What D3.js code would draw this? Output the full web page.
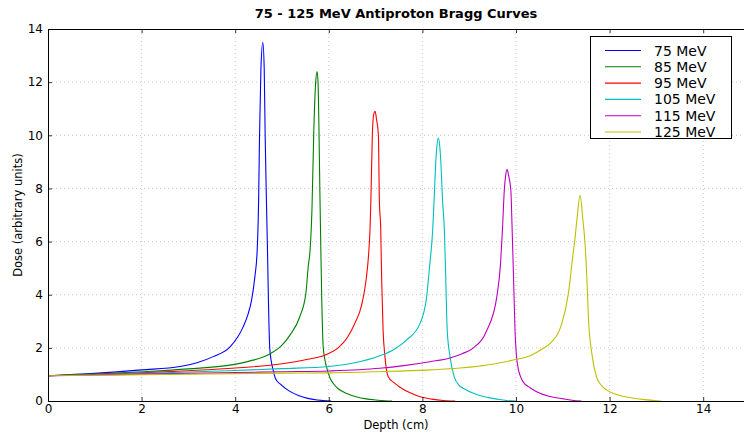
<!DOCTYPE html>
<html><head><meta charset="utf-8">
<script src="https://cdn.jsdelivr.net/npm/d3@7"></script>
<style>body{margin:0;background:#fff}svg{display:block}text{font-family:"DejaVu Sans",sans-serif;fill:#000}</style>
</head><body><svg id="c" width="744" height="437"></svg>
<script>
const title = "75 - 125 MeV Antiproton Bragg Curves";
const seriesNames = ["75 MeV","85 MeV","95 MeV","105 MeV","115 MeV","125 MeV"];
const seriesColors = ["#0000ff","#008000","#ff0000","#00bfbf","#bf00bf","#bfbf00"];
const xTicks = [0,2,4,6,8,10,12,14];
const yTicks = [2,4,6,8,10,12,14];

const depth75 = [0,1,2,2.82,3.2,3.53,3.89,4.05,4.17,4.28,4.35,4.42,4.47,4.5,4.52,4.55,4.59,4.62,4.64,4.67,4.69,4.71,4.74,4.81,4.86,4.96,5.15,5.35,5.55,5.75,5.95,6.05];
const dose75  = [0.95,1.04,1.17,1.3,1.45,1.67,2.04,2.4,2.79,3.3,3.8,4.67,5.68,7.5,10.0,12.5,13.5,12.5,10.0,7.3,5.68,3.8,1.95,1.17,0.85,0.64,0.38,0.21,0.1,0.04,0.01,0];

const depth85 = [0,1,2,3,3.89,4.3,4.74,5.0,5.17,5.38,5.51,5.56,5.6,5.64,5.68,5.72,5.75,5.77,5.79,5.81,5.83,5.85,5.88,5.95,6.03,6.1,6.2,6.4,6.6,6.8,7.0,7.2,7.35];
const dose85  = [0.95,1.01,1.1,1.21,1.35,1.5,1.77,2.1,2.48,3.17,4.05,5.05,5.68,7.2,10.2,12.0,12.4,12.0,10.2,7.8,5.68,3.8,2.04,1.29,0.85,0.65,0.46,0.27,0.15,0.08,0.04,0.01,0];

const depth95 = [0,1,2,3,4,5,5.5,5.95,6.2,6.4,6.55,6.7,6.8,6.85,6.88,6.9,6.93,6.96,6.99,7.02,7.06,7.08,7.11,7.13,7.16,7.2,7.27,7.4,7.52,7.75,7.95,8.2,8.45,8.7];
const dose95  = [0.95,1.0,1.06,1.14,1.24,1.4,1.55,1.75,2.0,2.4,2.9,3.6,4.6,5.5,6.43,7.6,10.0,10.8,10.9,10.6,10.0,7.6,6.43,4.55,2.67,1.67,0.91,0.68,0.52,0.3,0.16,0.07,0.02,0];

const depth105 = [0,1,2,3,4,5,6,6.5,7.09,7.4,7.66,7.95,8.09,8.16,8.22,8.25,8.28,8.31,8.34,8.37,8.40,8.43,8.47,8.5,8.53,8.59,8.68,8.78,8.9,9.09,9.35,9.6,9.8,10.0];
const dose105  = [0.95,0.99,1.04,1.09,1.15,1.22,1.3,1.42,1.7,1.95,2.29,2.92,3.92,5.18,6.43,7.56,8.8,9.6,9.9,9.6,8.8,7.56,6.43,4.55,2.67,1.67,0.91,0.6,0.45,0.29,0.15,0.07,0.02,0];

const depth115 = [0,1,2,3,4,5,6,7.09,7.6,8.16,8.59,8.85,9.09,9.38,9.59,9.67,9.71,9.75,9.78,9.81,9.84,9.89,9.92,9.95,9.98,10.01,10.05,10.1,10.16,10.3,10.44,10.7,11.01,11.2,11.4];
const dose115  = [0.95,0.98,1.01,1.04,1.07,1.1,1.13,1.23,1.33,1.48,1.62,1.78,2.0,2.67,3.92,5.18,6.43,7.93,8.5,8.72,8.5,7.93,6.3,4.5,2.6,1.7,1.2,0.9,0.7,0.5,0.35,0.18,0.08,0.03,0];

const depth125 = [0,1,2,3,4,5,6,7,8.16,8.8,9.23,9.59,9.94,10.3,10.55,10.73,10.98,11.12,11.22,11.26,11.3,11.37,11.43,11.47,11.51,11.55,11.62,11.72,11.82,11.94,12.1,12.3,12.5,12.75,13.0,13.1];
const dose125  = [0.95,0.97,0.99,1.01,1.03,1.05,1.06,1.1,1.17,1.24,1.32,1.41,1.54,1.7,1.95,2.17,2.92,4.05,5.55,6.1,6.8,7.74,6.8,6.05,4.8,3.05,1.79,0.91,0.6,0.41,0.27,0.17,0.11,0.05,0.01,0];

const depths = [depth75,depth85,depth95,depth105,depth115,depth125];
const doses = [dose75,dose85,dose95,dose105,dose115,dose125];

const svg = d3.select("#c");
const L=48, R=750, T=29, B=401;
const x = d3.scaleLinear().domain([0,15]).range([L,R]);
const y = d3.scaleLinear().domain([0,14]).range([B,T]);

svg.append("defs").append("clipPath").attr("id","clip").append("rect")
  .attr("x",L).attr("y",T).attr("width",R-L).attr("height",B-T);

// grid
const g = svg.append("g");
g.selectAll(".gx").data(xTicks.filter(d=>d>0)).enter().append("line")
  .attr("x1",d=>x(d)).attr("x2",d=>x(d)).attr("y1",T).attr("y2",B)
  .attr("stroke","#b8b8b8").attr("stroke-width",0.8).attr("stroke-dasharray","1,3");
g.selectAll(".gy").data(yTicks.filter(d=>d<14)).enter().append("line")
  .attr("x1",L).attr("x2",R).attr("y1",d=>y(d)).attr("y2",d=>y(d))
  .attr("stroke","#b8b8b8").attr("stroke-width",0.8).attr("stroke-dasharray","1,3");

// curves
const line = d3.line().x(d=>x(d[0])).y(d=>y(d[1])).curve(d3.curveMonotoneX);
const cg = svg.append("g").attr("clip-path","url(#clip)");
depths.forEach((dp,i)=>{
  const pts = dp.map((v,j)=>[v,doses[i][j]]);
  cg.append("path").attr("d",line(pts)).attr("fill","none")
    .attr("stroke",seriesColors[i]).attr("stroke-width",1.1);
});

// axes (ticks inward)
const xAxis = d3.axisBottom(x).tickValues(xTicks).tickSize(-4).tickPadding(3).tickFormat(d3.format("d"));
const ax = svg.append("g").attr("transform",`translate(0,${B})`).call(xAxis);
const xAxisTop = d3.axisTop(x).tickValues(xTicks).tickSize(-4).tickFormat("");
const axt = svg.append("g").attr("transform",`translate(0,${T})`).call(xAxisTop);
const yAxis = d3.axisLeft(y).tickValues([0].concat(yTicks)).tickSize(-4).tickPadding(5).tickFormat(d3.format("d"));
const ay = svg.append("g").attr("transform",`translate(${L},0)`).call(yAxis);
[ax,axt,ay].forEach(a=>{
  a.select(".domain").attr("stroke","#000").attr("stroke-width",1);
  a.selectAll(".tick line").attr("stroke","#000").attr("stroke-width",0.8);
  a.selectAll("text").attr("font-size",12).attr("font-family","DejaVu Sans").attr("fill","#000");
});

// titles
svg.append("text").attr("x",(L+744)/2).attr("y",18).attr("text-anchor","middle")
  .attr("font-size",13).attr("font-weight","bold").text(title);
svg.append("text").attr("x",(L+744)/2).attr("y",429).attr("text-anchor","middle")
  .attr("font-size",11.5).text("Depth (cm)");
svg.append("text").attr("transform",`translate(22,${(T+B)/2}) rotate(-90)`).attr("text-anchor","middle")
  .attr("font-size",11.5).text("Dose (arbitrary units)");

// legend
const lg = svg.append("g");
lg.append("rect").attr("x",590.5).attr("y",36.5).attr("width",141).attr("height",102)
  .attr("fill","#fff").attr("stroke","#000").attr("stroke-width",1);
seriesNames.forEach((n,i)=>{
  const yy = 50.5 + i*16.3;
  lg.append("line").attr("x1",605).attr("x2",641).attr("y1",yy).attr("y2",yy)
    .attr("stroke",seriesColors[i]).attr("stroke-width",1.1);
  lg.append("text").attr("x",654).attr("y",yy).attr("dy","0.36em").attr("font-size",14).text(n);
});
</script></body></html>
